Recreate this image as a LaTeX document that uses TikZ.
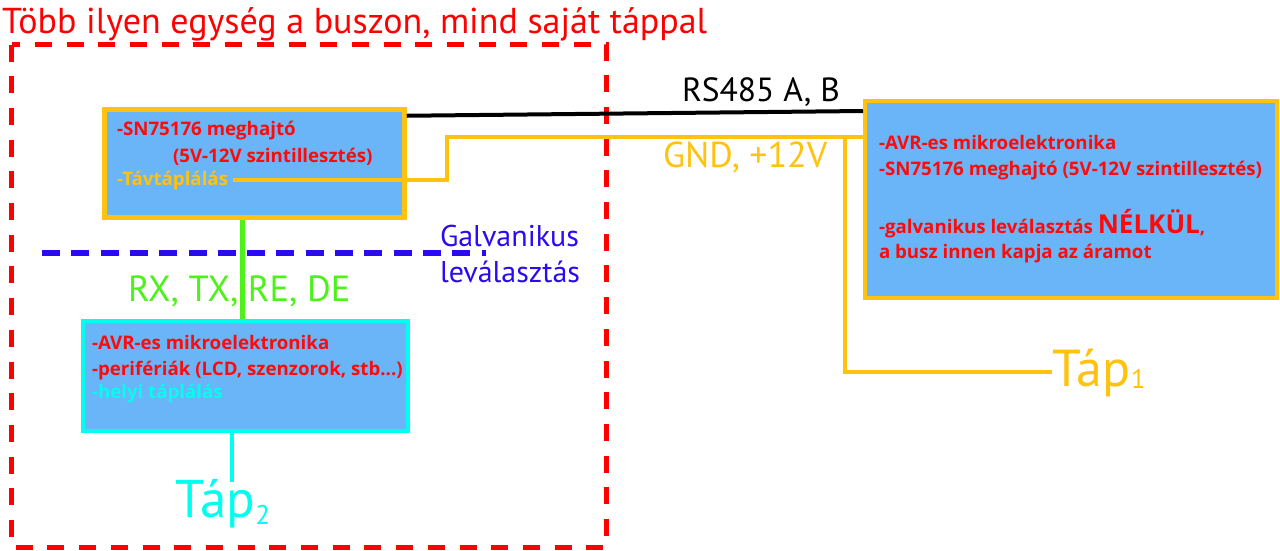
\documentclass[tikz,border=0pt]{standalone}
\usepackage{fontspec}
\setmainfont{PT Sans}
\newfontfamily\boxfont{Open Sans}
\usetikzlibrary{calc}
\definecolor{cred}{HTML}{FF0000}
\definecolor{cyel}{HTML}{FFC20E}
\definecolor{cfill}{HTML}{6AB4F8}
\definecolor{ccyan}{HTML}{00FFEE}
\definecolor{cgreen}{HTML}{4DF21A}
\definecolor{cblue}{HTML}{2A0AF0}
\definecolor{ctred}{HTML}{FF0A0A}
\newcommand\subdig[2]{\raisebox{#1}{\fontsize{27}{27}\selectfont #2}}
\begin{document}
\begin{tikzpicture}[x=1pt,y=-1pt,
  unitbox/.style={fill=cfill, line width=4.5pt, inner sep=0pt, anchor=center},
  txt/.style={anchor=base west, inner sep=0pt, outer sep=0pt},
  boxtxt/.style={txt, font=\boxfont\fontsize{18.7}{20}\selectfont\bfseries, text=ctred},
  yl/.style={draw=cyel, line width=4pt},
  gl/.style={draw=cgreen, line width=4.5pt},
  cl/.style={draw=ccyan, line width=4.5pt},
  bl/.style={draw=cblue, line width=6.5pt, dash pattern=on 18pt off 11.3pt},
  reddash/.style={draw=cred, line width=5pt, dash pattern=on 17pt off 14.7pt},
  busline/.style={draw=black, line width=4pt}
]
\useasboundingbox (0,0) rectangle (1280,550);

% title and unit frame
\node[txt, text=cred, font=\fontsize{36}{40}\selectfont] (title) at (2,33) {Több ilyen egység a buszon, mind saját táppal};
\draw[reddash] (11.5,44.5) rectangle (606.5,547.5);

% boxes
\node[unitbox, draw=cyel, minimum width=300pt, minimum height=108pt] (b1) at (254.5,163.5) {};
\node[unitbox, draw=cyel, line width=4pt, minimum width=412pt, minimum height=197pt] (b2) at (1071,199.5) {};
\node[unitbox, draw=ccyan, line width=4pt, minimum width=325pt, minimum height=110pt] (b3) at (245.5,376) {};

% box 1 texts
\node[boxtxt] (t11) at (117,135) {-SN75176 meghajtó};
\node[boxtxt] (t12) at (173,162) {(5V-12V szintillesztés)};
\node[boxtxt, text=cyel] (tav) at (117,185.5) {-Távtáplálás};

% box 2 texts
\node[boxtxt] (t21) at (879,149) {-AVR-es mikroelektronika};
\node[boxtxt] (t22) at (879,175) {-SN75176 meghajtó (5V-12V szintillesztés)};
\node[boxtxt] (t23) at (879,233) {-galvanikus leválasztás {\fontsize{26}{28}\selectfont NÉLKÜL},};
\node[boxtxt] (t24) at (879,258) {a busz innen kapja az áramot};

% box 3 texts
\node[boxtxt] (t31) at (92,349) {-AVR-es mikroelektronika};
\node[boxtxt] (t32) at (92,375) {-perifériák (LCD, szenzorok, stb...)};
\node[boxtxt, text=ccyan] (t33) at (92,398) {-helyi táplálás};

% labels
\node[txt, font=\fontsize{33.5}{36}\selectfont] (rs) at (682,101.7) {RS485 A, B};
\node[txt, text=cyel, font=\fontsize{36}{38}\selectfont] (gnd) at (663,167) {GND, +12V};
\node[txt, text=cblue, font=\fontsize{30}{32}\selectfont] (gal1) at (440,246) {Galvanikus};
\node[txt, text=cblue, font=\fontsize{30}{32}\selectfont] (gal2) at (440,282) {leválasztás};
\node[txt, text=cgreen, font=\fontsize{36.4}{40}\selectfont] (rx) at (128,301.7) {RX, TX, RE, DE};
\node[txt, text=cyel, font=\fontsize{52}{56}\selectfont] (tap1) at (1052,386.7) {Táp\subdig{-2pt}{1}};
\node[txt, text=ccyan, font=\fontsize{53}{56}\selectfont] (tap2) at (175,517) {Táp\subdig{-7pt}{2}};

% connectors
\draw[busline] ([yshift=-8.5pt]b1.north east) -- ([yshift=-12pt]b2.north west);
\coordinate (j1) at (447,137);
\coordinate (j2) at (845,137);
\draw[yl] ([shift={(5pt,5.5pt)}]tav.base east) -| (j1) -- (b2.west |- j1);
\draw[yl] (j2) |- ([yshift=14.7pt]tap1.base west);
\draw[gl] ([xshift=-12pt]b1.south) -- ([xshift=-3pt]b3.north);
\coordinate (c2) at (232,482);
\draw[cl] ([xshift=-13.5pt]b3.south) -- (c2);
\coordinate (g1) at (42,253);
\coordinate (g2) at (486,253);
\draw[bl] (g1) -- (g2);
\end{tikzpicture}
\end{document}
